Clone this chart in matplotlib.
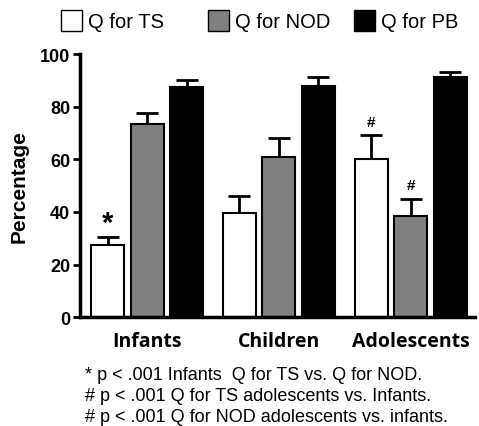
import numpy as np
import matplotlib.pyplot as plt
from matplotlib.patches import Rectangle

groups = ["Infants", "Children", "Adolescents"]
series = ["Q for TS", "Q for NOD", "Q for PB"]
colors = ["white", "#808080", "black"]

q_ts = [27.4, 39.5, 60.0]
q_nod = [73.4, 60.8, 38.4]
q_pb = [87.4, 87.8, 91.2]

err_ts = [3.0, 6.5, 9.2]
err_nod = [4.2, 7.2, 6.5]
err_pb = [2.7, 3.4, 1.8]

footnotes = [
    "* p < .001 Infants  Q for TS vs. Q for NOD.",
    "# p < .001 Q for TS adolescents vs. Infants.",
    "# p < .001 Q for NOD adolescents vs. infants.",
]

plt.rcParams['font.family'] = ['Liberation Sans', 'DejaVu Sans']

W, H = 479, 427
fig = plt.figure(figsize=(W / 100, H / 100), dpi=100)
ax = fig.add_axes([0.167, 0.255, 0.825, 0.616])

x = np.arange(len(groups))
width = 0.25
step = 0.3
values = [q_ts, q_nod, q_pb]
errors = [err_ts, err_nod, err_pb]

for k in range(3):
    xs = x + (k - 1) * step
    ax.bar(xs, values[k], width, color=colors[k], edgecolor="black",
           linewidth=1.5, zorder=2)
    # only the upper half of the error bar shows above the bar
    ax.errorbar(xs, values[k], yerr=[np.zeros(3), errors[k]], fmt="none",
                ecolor="black", elinewidth=2, capsize=8, capthick=2, zorder=1)

# significance marks
ax.text(x[0] - step, q_ts[0] + err_ts[0] + 0.2, "*", ha="center", va="bottom",
        fontsize=21, fontweight="bold")
ax.text(x[2] - step, q_ts[2] + err_ts[2] + 2.5, "#", ha="center", va="bottom",
        fontsize=11, fontweight="bold")
ax.text(x[2], q_nod[2] + err_nod[2] + 2.5, "#", ha="center", va="bottom",
        fontsize=11, fontweight="bold")

ax.set_xlim(-0.51, 2.49)
ax.set_ylim(0, 100)
ax.set_yticks([0, 20, 40, 60, 80, 100])
ax.set_xticks(x)
ax.set_xticklabels(groups, fontsize=14, fontweight="bold", family="Open Sans")
ax.tick_params(axis="x", length=0, pad=10)
ax.tick_params(axis="y", width=2, length=5, labelsize=13, pad=2)
for lab in ax.get_yticklabels():
    lab.set_fontweight("bold")
ax.set_ylabel("Percentage", fontsize=15, fontweight="bold", labelpad=8)

for s in ["top", "right"]:
    ax.spines[s].set_visible(False)
ax.spines["left"].set_linewidth(2.5)
ax.spines["bottom"].set_linewidth(2.5)

# legend row across the top, laid out by hand (uneven gaps)
legend_x = [61, 208, 354]
for lx, c, name in zip(legend_x, colors, series):
    fig.add_artist(Rectangle((lx / W, 1 - 32 / H), 21 / W, 21 / H,
                             transform=fig.transFigure, facecolor=c,
                             edgecolor="black", linewidth=1))
    fig.text((lx + 27) / W, 1 - 22 / H, name, fontsize=14.5,
             ha="left", va="center")

for i, line in enumerate(footnotes):
    fig.text(85 / W, 1 - (376 + i * 21) / H, line, fontsize=13,
             ha="left", va="center")

fig.savefig("out.png", dpi=100)
